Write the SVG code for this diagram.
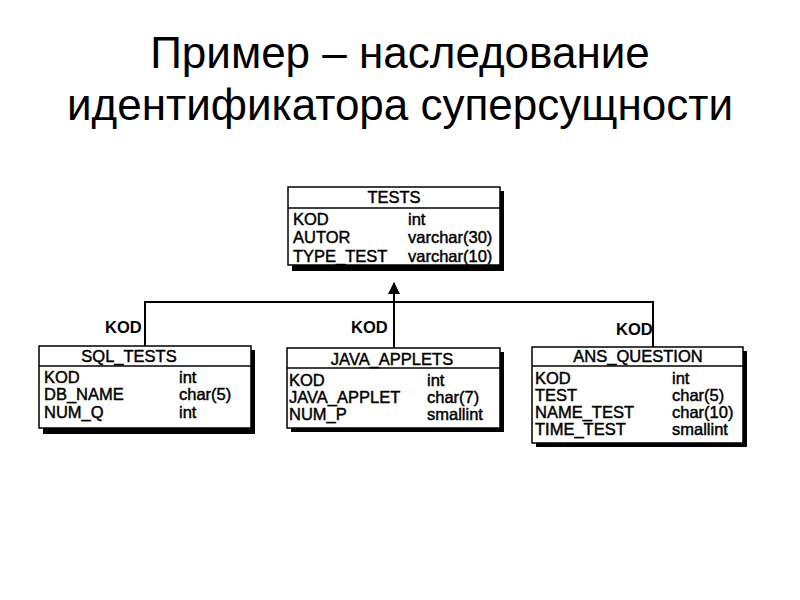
<svg xmlns="http://www.w3.org/2000/svg" width="800" height="600" viewBox="0 0 800 600">
<style>
.title{font-family:"Liberation Sans",Arial,sans-serif;font-size:44px;fill:#000;text-anchor:middle}
.t{font-family:"Liberation Sans",Arial,sans-serif;font-size:16.5px;fill:#000;stroke:#000;stroke-width:0.45}
.h{text-anchor:middle}
.lbl{font-family:"Liberation Sans",Arial,sans-serif;font-size:16.5px;font-weight:bold;fill:#000}
.shadow{fill:#000}
.box{fill:#fff;stroke:#000;stroke-width:1.5}
.sep{stroke:#000;stroke-width:1.5}
.conn{stroke:#000;stroke-width:2;fill:none}
</style>
<defs>
<marker id="arr" markerWidth="12" markerHeight="12" refX="11" refY="6" orient="auto" markerUnits="userSpaceOnUse">
<path d="M0,0 L12,6 L0,12 Z" fill="#000"/>
</marker>
</defs>
<rect width="800" height="600" fill="#fff"/>
<text class="title" x="400" y="68">Пример – наследование</text>
<text class="title" x="400" y="120">идентификатора суперсущности</text>

<g id="connectors">
<path class="conn" d="M145,346 V302 H653 V347"/>
<path class="conn" d="M394,348 V283" marker-end="url(#arr)"/>
<text class="lbl" x="105" y="333">KOD</text>
<text class="lbl" x="351" y="333">KOD</text>
<text class="lbl" x="616" y="335">KOD</text>
</g>

<g id="tests">
<rect class="shadow" x="292" y="191" width="212" height="80"/>
<rect class="box" x="288" y="187" width="212" height="78"/>
<line class="sep" x1="288" y1="208" x2="500" y2="208"/>
<text class="t h" x="394" y="203">TESTS</text>
<text class="t" x="293" y="225">KOD</text><text class="t" x="408" y="225">int</text>
<text class="t" x="293" y="243">AUTOR</text><text class="t" x="408" y="243">varchar(30)</text>
<text class="t" x="293" y="262">TYPE_TEST</text><text class="t" x="408" y="262">varchar(10)</text>
</g>

<g id="sql_tests">
<rect class="shadow" x="43" y="350" width="212" height="84"/>
<rect class="box" x="39" y="346" width="212" height="82"/>
<line class="sep" x1="39" y1="366" x2="251" y2="366"/>
<text class="t h" x="129" y="362">SQL_TESTS</text>
<text class="t" x="44" y="383">KOD</text><text class="t" x="179" y="383">int</text>
<text class="t" x="44" y="400">DB_NAME</text><text class="t" x="179" y="400">char(5)</text>
<text class="t" x="44" y="418">NUM_Q</text><text class="t" x="179" y="418">int</text>
</g>

<g id="java_applets">
<rect class="shadow" x="291" y="352" width="213" height="80"/>
<rect class="box" x="287" y="348" width="213" height="80"/>
<line class="sep" x1="287" y1="368" x2="500" y2="368"/>
<text class="t h" x="392" y="365">JAVA_APPLETS</text>
<text class="t" x="289" y="386">KOD</text><text class="t" x="427" y="386">int</text>
<text class="t" x="289" y="403">JAVA_APPLET</text><text class="t" x="427" y="403">char(7)</text>
<text class="t" x="289" y="420">NUM_P</text><text class="t" x="427" y="420">smallint</text>
</g>

<g id="ans_question">
<rect class="shadow" x="536" y="351" width="211" height="96"/>
<rect class="box" x="532" y="347" width="211" height="96"/>
<line class="sep" x1="532" y1="366" x2="743" y2="366"/>
<text class="t h" x="638" y="362">ANS_QUESTION</text>
<text class="t" x="535" y="384">KOD</text><text class="t" x="672" y="384">int</text>
<text class="t" x="535" y="401">TEST</text><text class="t" x="672" y="401">char(5)</text>
<text class="t" x="535" y="418">NAME_TEST</text><text class="t" x="672" y="418">char(10)</text>
<text class="t" x="535" y="435">TIME_TEST</text><text class="t" x="672" y="435">smallint</text>
</g>
</svg>
